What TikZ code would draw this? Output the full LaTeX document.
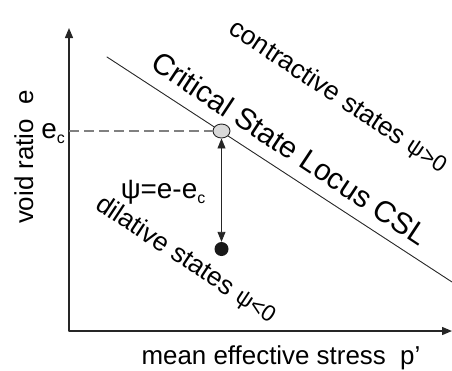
\documentclass[tikz,border=0pt]{standalone}
\usepackage{fontspec}
\setmainfont{Liberation Sans}
\usetikzlibrary{arrows.meta,shapes.geometric}
\begin{document}
\begin{tikzpicture}[x=1bp, y=-1bp, line join=round, line cap=round, >={Triangle[length=10bp,width=8bp]}]
\def \xorig{69}
\def \yorig{331}
\def \xend{452}
\def \ytop{28}
\def \ecrit{131}
\tikzset{
  axis/.style={line width=1.3bp, draw=black!85},
  thinline/.style={line width=0.9bp, draw=black!85},
  regionlabel/.style={rotate=-33.5, font=\fontsize{26.5}{26.5}\selectfont},
}
\useasboundingbox (0,0) rectangle (452,370);
% axes
\coordinate (O) at (\xorig,\yorig);
\coordinate (ytip) at (\xorig,\ytop);
\coordinate (xtip) at (\xend,\yorig);
\draw[axis, <->] (ytip) -- (O) -- (xtip);
\node[rotate=90, anchor=base, font=\fontsize{26}{26}\selectfont] (ylab) at (33,157) {void ratio\ \ e};
\node[anchor=base, font=\fontsize{26}{26}\selectfont] (xlab) at (281,364) {mean effective stress\ \ p'};
% critical state line
\coordinate (cslstart) at (107,57);
\coordinate (cslend) at (452,282);
\draw[thinline] (cslstart) -- (cslend);
\node[ellipse, draw=black!85, line width=0.9bp, fill=black!15, minimum width=17bp, minimum height=14bp, inner sep=0] (crit) at (221.5,\ecrit) {};
\node[circle, fill=black!90, minimum size=14bp, inner sep=0] (state) at (221.5,249) {};
% e_c level
\coordinate (eaxis) at (\xorig,\ecrit);
\draw[line width=1.2bp, draw=black!50, dash pattern=on 10bp off 5bp, line cap=butt] (eaxis) -- (crit.west);
\node[anchor=base, font=\fontsize{28}{28}\selectfont] (eclab) at (53,138) {e\raisebox{-0.35ex}{\fontsize{16}{16}\selectfont c}};
% state parameter
\draw[thinline, <->] (crit.south) -- (state.north);
\node[anchor=base, font=\fontsize{28}{28}\selectfont] (psilab) at (163,198) {ψ=e-e\raisebox{-0.35ex}{\fontsize{16}{16}\selectfont c}};
% labels along the line
\node[regionlabel, font=\fontsize{30}{30}\selectfont] (csllab) at (290,148) {Critical State Locus CSL};
\node[regionlabel] (contlab) at (338,97) {contractive states {\fontsize{23}{23}\selectfont ψ>0}};
\node[regionlabel] (dillab) at (186,260) {dilative states {\fontsize{23}{23}\selectfont ψ<0}};
\end{tikzpicture}
\end{document}
